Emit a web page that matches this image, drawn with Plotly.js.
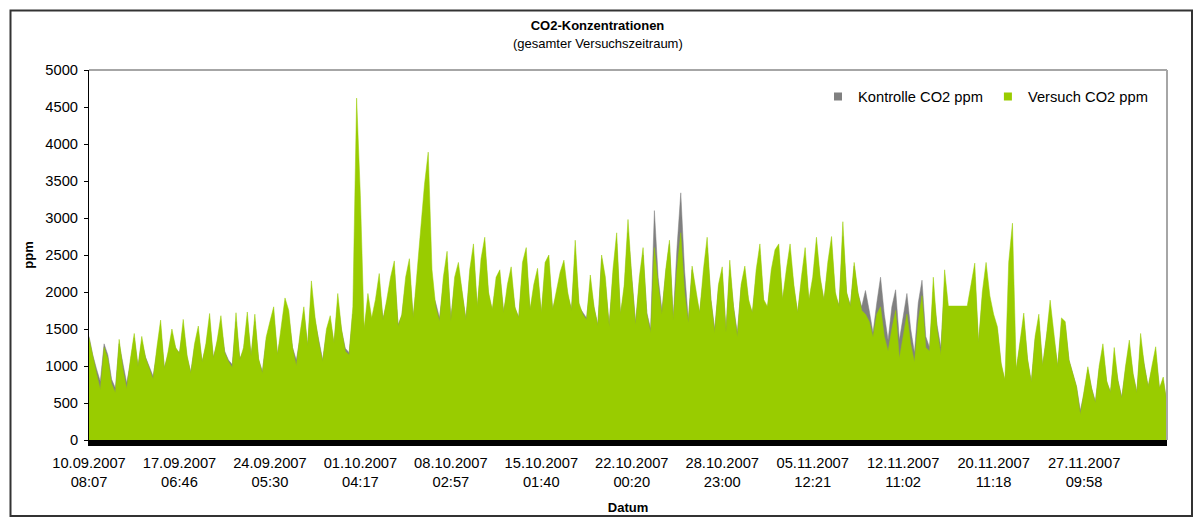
<!DOCTYPE html>
<html>
<head>
<meta charset="utf-8">
<script src="https://cdn.plot.ly/plotly-3.0.1.min.js"></script>
<style>
  html, body { margin: 0; padding: 0; background: #ffffff; }
  #chart { width: 1195px; height: 517px; }
</style>
</head>
<body>
<div id="chart"></div>
<script>
// ---- Data ----
const tickDates = ["10.09.2007","17.09.2007","24.09.2007","01.10.2007","08.10.2007","15.10.2007",
                   "22.10.2007","28.10.2007","05.11.2007","12.11.2007","20.11.2007","27.11.2007"];
const tickTimes = ["08:07","06:46","05:30","04:17","02:57","01:40",
                   "00:20","23:00","12:21","11:02","11:18","09:58"];
const pointsPerLabel = 24;

const seriesNames = ["Kontrolle CO2 ppm", "Versuch CO2 ppm"];

const kontrolle = [
1400,1150,960,790,1300,1150,820,700,1300,1020,770,1050,1380,1000,1330,1120,990,860,1180,1500,
980,1150,1420,1230,1180,1520,1120,920,1250,1450,1060,1250,1580,1120,1300,1560,1200,1080,1020,1600,
1100,1200,1620,1140,1600,1080,930,1340,1500,1680,1160,1420,1800,1650,1250,1080,1380,1700,1280,1950,
1600,1320,1080,1450,1600,1300,1850,1480,1240,1180,1700,1500,1600,1480,1850,1600,1800,2100,1640,1850,
2100,2300,1560,1680,2100,2300,1660,2100,1900,1800,1750,2000,1850,1650,2100,2400,1650,2100,2300,1950,
1640,2200,2500,1780,2300,2600,1950,1750,2100,2200,1740,2000,2200,1780,1660,2250,2450,1750,2000,2200,
1700,2250,2350,1760,1950,2150,2300,1950,1770,2500,1800,1720,1650,2100,1780,1560,2450,2100,1560,2200,
2650,1700,2000,2800,2150,1600,2100,2500,1720,1500,3100,2200,1750,2250,2650,1650,2600,3340,2300,1620,
2300,1950,1720,2200,2600,1900,1500,2050,2250,1500,2300,1800,1450,2050,2250,1850,1720,2200,2500,1850,
1780,2200,2450,2500,1880,2200,2500,2050,1720,2100,2450,1850,2100,2600,2150,1880,2300,2600,1950,1820,
2750,1980,1820,2350,1980,1800,2020,1750,1450,1850,2200,1700,1350,1800,2030,1350,1650,1980,1500,1180,
1850,2160,1400,1250,2000,1550,1250,2100,1700,1650,1600,1600,1620,1650,1950,2200,1300,1900,2250,1850,
1650,1480,1000,800,1300,1250,950,1250,1600,1080,780,1350,1600,1000,1350,1750,1350,1000,1550,1550,
1080,900,720,400,630,950,700,520,950,1200,780,650,1100,800,580,950,1250,880,650,1300,
1000,720,950,1150,700,800,500
];

const versuch = [
1380,1120,900,680,1250,1100,760,640,1360,960,690,1100,1440,990,1400,1110,950,820,1250,1620,
960,1200,1500,1250,1170,1630,1150,900,1300,1540,1050,1300,1710,1100,1350,1680,1180,1060,980,1720,
1080,1250,1730,1130,1700,1100,900,1390,1600,1800,1150,1500,1920,1750,1250,1000,1450,1800,1270,2150,
1650,1310,1060,1500,1680,1310,1980,1500,1200,1150,1800,4620,3300,1500,1980,1650,1900,2250,1620,1900,
2200,2420,1530,1700,2200,2450,1650,2250,2850,3450,3890,2300,1800,1600,2200,2550,1600,2200,2400,2000,
1620,2300,2650,1800,2450,2740,2000,1760,2200,2300,1720,2100,2340,1800,1650,2400,2600,1760,2100,2320,
1720,2400,2500,1760,2000,2270,2430,2000,1750,2700,1850,1700,1620,2230,1800,1540,2500,2200,1530,2300,
2800,1700,2100,2980,2200,1550,2200,2600,1700,1450,2600,2100,1700,2300,2700,1620,2300,2800,2000,1580,
2350,2000,1720,2300,2740,1900,1450,2100,2340,1450,2430,1800,1390,2100,2350,1900,1715,2300,2650,1900,
1800,2300,2570,2650,1900,2300,2650,2100,1720,2200,2600,1900,2200,2740,2200,1890,2400,2750,2000,1800,
2950,2000,1800,2400,2000,1750,1700,1600,1390,1700,1800,1400,1200,1500,1750,1100,1400,1700,1300,1050,
1600,1950,1250,1200,2200,1500,1150,2300,1810,1810,1810,1810,1810,1810,2100,2390,1310,2000,2400,1950,
1700,1530,1040,810,2400,2930,950,1300,1715,1100,780,1400,1700,1000,1400,1890,1400,990,1650,1600,
1080,900,720,340,650,990,700,500,1000,1300,800,640,1250,800,560,1000,1350,900,640,1440,
1000,720,1000,1260,700,850,480
];

const chartTitle = "CO2-Konzentrationen";
const chartSubtitle = "(gesamter Versuchszeitraum)";

// ---- Build chart ----
const FONT = "Liberation Sans, Arial, sans-serif";
const colGray = "#808080";
const colGreen = "#99cc00";

const xIdx = versuch.map((_, i) => i);
const lastIdx = versuch.length - 1;
const tickVals = tickDates.map((_, i) => i * pointsPerLabel);
const tickText = tickDates.map((d, i) => d + "<br>" + tickTimes[i]);

const traces = [
  { x: xIdx, y: kontrolle, type: "scatter", mode: "lines", fill: "tozeroy",
    fillcolor: colGray, line: { color: colGray, width: 0.5 }, name: seriesNames[0],
    showlegend: false, hoverinfo: "y" },
  { x: xIdx, y: versuch, type: "scatter", mode: "lines", fill: "tozeroy",
    fillcolor: colGreen, line: { color: colGreen, width: 0.5 }, name: seriesNames[1],
    showlegend: false, hoverinfo: "y" },
  // legend entries (square keys as in the original)
  { x: [null], y: [null], type: "scatter", mode: "markers", name: seriesNames[0],
    marker: { symbol: "square", size: 8, color: colGray }, showlegend: true },
  { x: [null], y: [null], type: "scatter", mode: "markers", name: seriesNames[1],
    marker: { symbol: "square", size: 8, color: colGreen }, showlegend: true }
];

const W = 1195, H = 517;
const L = 89, R = 28, T = 70, B = 77;
const pw = W - L - R, ph = H - T - B;
const px2x = p => (p - L) / pw;
const py2y = p => (H - B - p) / ph;

const layout = {
  width: W, height: H,
  margin: { l: L, r: R, t: T, b: B, pad: 0 },
  paper_bgcolor: "#ffffff", plot_bgcolor: "#ffffff",
  font: { family: FONT, size: 14.7, color: "#000000" },
  title: {
    text: "<b>" + chartTitle + "</b>",
    font: { family: FONT, size: 13, color: "#000000" },
    x: 0.5, xref: "container", xanchor: "center",
    y: 1 - 25 / H, yref: "container", yanchor: "middle"
  },
  annotations: [
    { text: chartSubtitle, showarrow: false, xref: "paper", yref: "paper",
      x: px2x(598), y: py2y(43), xanchor: "center", yanchor: "middle",
      font: { family: FONT, size: 13, color: "#000000" } }
  ],
  xaxis: {
    range: [0, lastIdx],
    tickmode: "array", tickvals: tickVals, ticktext: tickText,
    ticks: "outside", ticklen: 4, tickcolor: "rgba(0,0,0,0)",
    showgrid: false, zeroline: false,
    showline: true, linecolor: "#000000", linewidth: 6,
    tickfont: { family: FONT, size: 14.7, color: "#000000" },
    title: { text: "<b>Datum</b>", font: { family: FONT, size: 13, color: "#000000" }, standoff: 16 },
    fixedrange: true
  },
  yaxis: {
    range: [0, 5000], dtick: 500, tick0: 0, tickformat: "d",
    ticks: "outside", ticklen: 4, tickcolor: "#000000", tickwidth: 1,
    ticklabelstandoff: 3,
    showgrid: false, zeroline: false,
    showline: true, linecolor: "#000000", linewidth: 1,
    tickfont: { family: FONT, size: 14.7, color: "#000000" },
    title: { text: "<b>ppm</b>", font: { family: FONT, size: 13, color: "#000000" }, standoff: 8 },
    fixedrange: true
  },
  legend: {
    orientation: "h", x: px2x(1153), xanchor: "right", y: py2y(97), yanchor: "middle",
    bgcolor: "rgba(0,0,0,0)", font: { family: FONT, size: 14.7, color: "#000000" },
    itemwidth: 30
  },
  shapes: [
    // plot-area border (top and right), grey as in the original
    { type: "line", xref: "paper", yref: "paper", x0: 0, x1: 1, y0: 1, y1: 1,
      line: { color: "#a6a6a6", width: 2 } },
    { type: "line", xref: "paper", yref: "paper", x0: 1, x1: 1, y0: 0, y1: 1,
      line: { color: "#a6a6a6", width: 2 } },
    // chart-area frame
    { type: "rect", xref: "paper", yref: "paper",
      x0: px2x(10.5), x1: px2x(1192), y0: py2y(516), y1: py2y(10.5),
      line: { color: "#333333", width: 2 }, fillcolor: "rgba(0,0,0,0)" }
  ],
  showlegend: true
};

Plotly.newPlot("chart", traces, layout, { displayModeBar: false, staticPlot: true });
</script>
</body>
</html>
